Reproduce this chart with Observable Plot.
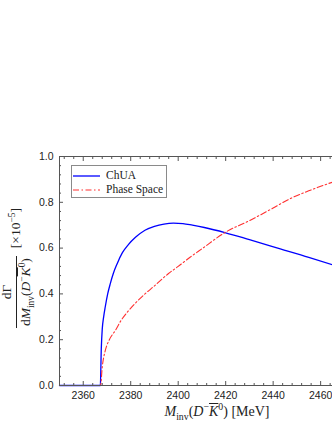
<!DOCTYPE html>
<html><head><meta charset="utf-8">
<script src="https://cdn.jsdelivr.net/npm/d3@7"></script>
<script src="https://cdn.jsdelivr.net/npm/@observablehq/plot@0.6"></script>
<style>
body{margin:0;background:#fff;}
#wrap{position:relative;width:332px;height:430px;overflow:hidden;}
.serif{position:absolute;font-family:"Liberation Serif","DejaVu Serif",serif;color:#222;white-space:nowrap;line-height:1;}
.ov{text-decoration:overline;}
sub,sup{font-size:70%;line-height:0;}
#legend{left:71px;top:165px;width:94px;height:31px;border:1px solid #8a8a8a;background:#fff;font-size:11.5px;}
#legend .row{position:absolute;left:1px;display:flex;align-items:center;height:12px;}
#legend .txt{margin-left:6px;}
#ylab{left:16px;top:267px;transform:translate(-50%,-50%) rotate(-90deg);font-size:13.5px;display:flex;align-items:center;}
.frac{display:inline-flex;flex-direction:column;align-items:center;}
.num{border-bottom:1px solid #222;padding:0 2px 2px 2px;width:100%;text-align:center;}
.den{padding-top:2px;}
.unit{margin-left:10px;}
#xlab{left:217px;top:412px;transform:translate(-50%,-50%);font-size:14px;}
</style>
</head><body>
<div id="wrap"></div>
<script>
// ChUA curve: invariant mass (MeV) and dGamma/dM (x10^-5)
const chuaM = [2350, 2367.2, 2367.6, 2368.0, 2368.6, 2369.3, 2370.3, 2371.4, 2372.7, 2374.2, 2376.5, 2379, 2382, 2386, 2390, 2394, 2398, 2402, 2406, 2411, 2420, 2430, 2443, 2455, 2465];
const chuaV = [0, 0, 0.16, 0.245, 0.30, 0.345, 0.40, 0.445, 0.49, 0.53, 0.58, 0.615, 0.647, 0.678, 0.695, 0.705, 0.709, 0.707, 0.70, 0.69, 0.667, 0.637, 0.597, 0.56, 0.527];
// Phase space curve
const psM = [2350, 2367.3, 2368, 2369.3, 2371, 2373.5, 2376, 2379.1, 2382, 2386, 2390, 2395.8, 2400, 2405, 2410, 2420, 2430, 2440, 2447, 2455, 2465];
const psV = [0, 0, 0.08, 0.153, 0.2, 0.24, 0.285, 0.327, 0.36, 0.40, 0.435, 0.488, 0.52, 0.56, 0.597, 0.67, 0.72, 0.775, 0.815, 0.85, 0.888];
// ticks
const xMajor = [2360, 2380, 2400, 2420, 2440, 2460];
const xMinor = [2352, 2356, 2364, 2368, 2372, 2376, 2384, 2388, 2392, 2396, 2404, 2408, 2412, 2416, 2424, 2428, 2432, 2436, 2444, 2448, 2452, 2456, 2464];
const yMajor = [0, 0.2, 0.4, 0.6, 0.8, 1.0];
const yMinor = [0.04, 0.08, 0.12, 0.16, 0.24, 0.28, 0.32, 0.36, 0.44, 0.48, 0.52, 0.56, 0.64, 0.68, 0.72, 0.76, 0.84, 0.88, 0.92, 0.96];

const chua = chuaM.map((m, i) => ({m, v: chuaV[i]}));
const ps = psM.map((m, i) => ({m, v: psV[i]}));

const tickColor = "#555";
const chart = Plot.plot({
  width: 332, height: 430,
  marginTop: 156, marginBottom: 45, marginLeft: 59, marginRight: 0,
  x: {domain: [2350, 2465]},
  y: {domain: [0, 1]},
  style: {fontFamily: "'Liberation Sans', Arial, sans-serif", fontSize: "10.5px", color: "#222", background: "white"},
  marks: [
    Plot.line(chua, {x: "m", y: "v", stroke: "#0000ff", strokeWidth: 1.3, curve: "monotone-x"}),
    Plot.line(ps, {x: "m", y: "v", stroke: "#ff3030", strokeWidth: 1.1, strokeDasharray: "6,2.5,1.5,2.5", curve: "monotone-x"}),
    Plot.frame({stroke: tickColor, strokeWidth: 1}),
    Plot.axisX({ticks: xMajor, tickSize: 0, tickPadding: 6, tickFormat: d => String(d), label: null}),
    Plot.axisX({ticks: xMajor, tickSize: -4, text: null, label: null, stroke: tickColor}),
    Plot.axisX({ticks: xMinor, tickSize: -2, text: null, label: null, stroke: tickColor}),
    Plot.axisX({anchor: "top", ticks: xMajor, tickSize: -4, text: null, label: null, stroke: tickColor}),
    Plot.axisX({anchor: "top", ticks: xMinor, tickSize: -2, text: null, label: null, stroke: tickColor}),
    Plot.axisY({ticks: yMajor, tickSize: 0, tickPadding: 6, tickFormat: d3.format(".1f"), label: null}),
    Plot.axisY({ticks: yMajor, tickSize: -4, text: null, label: null, stroke: tickColor}),
    Plot.axisY({ticks: yMinor, tickSize: -2, text: null, label: null, stroke: tickColor})
  ]
});
const wrap = document.getElementById("wrap");
wrap.appendChild(chart);

wrap.insertAdjacentHTML("beforeend", `
<div id="legend" class="serif">
  <div class="row" style="top:4px"><svg width="27" height="4"><line x1="0" x2="27" y1="2" y2="2" stroke="#0000ff" stroke-width="1.3"/></svg><span class="txt">ChUA</span></div>
  <div class="row" style="top:18px"><svg width="27" height="4"><line x1="0" x2="27" y1="2" y2="2" stroke="#ff3030" stroke-width="1.1" stroke-dasharray="6,2.5,1.5,2.5"/></svg><span class="txt">Phase Space</span></div>
</div>
<div id="ylab" class="serif">
  <span class="frac"><span class="num">dΓ</span><span class="den">d<i>M</i><sub>inv</sub>(<i>D</i><sup>−</sup><span class="ov"><i>K</i></span><sup>0</sup>)</span></span>
  <span class="unit">[×10<sup>−5</sup>]</span>
</div>
<div id="xlab" class="serif"><i>M</i><sub>inv</sub>(<i>D</i><sup>−</sup><span class="ov"><i>K</i></span><sup>0</sup>) [MeV]</div>
`);
</script>
</body></html>
